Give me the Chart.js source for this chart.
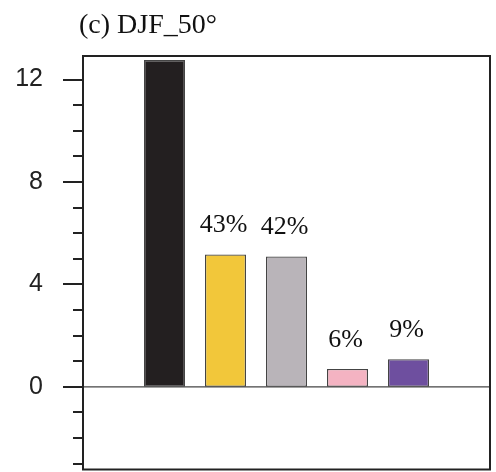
<!DOCTYPE html>
<html>
<head>
<meta charset="utf-8">
<script src="https://cdn.jsdelivr.net/npm/chart.js@4"></script>
<style>
  html, body { margin: 0; padding: 0; background: #fff; overflow: hidden; }
  canvas { display: block; }
</style>
</head>
<body>
<canvas id="c" width="496" height="472" style="width:496px;height:472px"></canvas>
<script>
// Panel title
const panelTitle = '(c) DJF_50°';

// Bar positions along x, values and labels above bars
const positions = [0, 1, 2, 3, 4];
const values = [12.76, 5.17, 5.09, 0.70, 1.08];
const percentLabels = ['', '43%', '42%', '6%', '9%'];
const barColors = ['#231f20', '#f2c73a', '#b9b4b9', '#f4b3c2', '#6e4f9f'];

// Y axis range and tick settings
const yMin = -3.23;
const yMax = 12.92;
const yMinorStep = 1;
const yMajorStep = 4;

const points = positions.map((p, i) => ({ x: p, y: values[i] }));

const framePlugin = {
  id: 'frame',
  beforeDatasetsDraw(chart) {
    const { ctx, chartArea: a, scales: { y } } = chart;
    // zero line
    const y0 = y.getPixelForValue(0);
    ctx.save();
    ctx.strokeStyle = '#444';
    ctx.lineWidth = 1.2;
    ctx.beginPath();
    ctx.moveTo(a.left, y0);
    ctx.lineTo(a.right, y0);
    ctx.stroke();
    ctx.restore();
  },
  afterDraw(chart) {
    const { ctx, chartArea: a, scales: { y } } = chart;
    ctx.save();
    // frame
    ctx.strokeStyle = '#222';
    ctx.lineWidth = 2;
    ctx.strokeRect(a.left, a.top, a.right - a.left, a.bottom - a.top);
    // tick marks: long for major, short for minor
    ctx.lineWidth = 2;
    y.ticks.forEach(t => {
      if (!Number.isInteger(t.value)) return;
      const py = Math.round(y.getPixelForValue(t.value));
      const len = t.value % yMajorStep === 0 ? 20 : 10;
      ctx.beginPath();
      ctx.moveTo(a.left - len, py);
      ctx.lineTo(a.left, py);
      ctx.stroke();
    });
    // percentage labels above bars
    const meta = chart.getDatasetMeta(0);
    ctx.fillStyle = '#111';
    ctx.font = '26px "Liberation Serif", "Times New Roman", serif';
    ctx.textAlign = 'center';
    ctx.textBaseline = 'alphabetic';
    meta.data.forEach((bar, i) => {
      if (!percentLabels[i]) return;
      ctx.fillText(percentLabels[i], bar.x - 2, bar.y - 22);
    });
    // panel title
    ctx.font = '28px "Liberation Serif", "Times New Roman", serif';
    ctx.textAlign = 'left';
    ctx.fillText(panelTitle, 79, 33);
    ctx.restore();
  }
};

new Chart(document.getElementById('c'), {
  type: 'bar',
  data: {
    datasets: [{
      data: points,
      backgroundColor: barColors,
      borderColor: '#444',
      borderWidth: 1.3,
      borderSkipped: false,
      barPercentage: 0.672,
      categoryPercentage: 1
    }]
  },
  options: {
    responsive: false,
    animation: false,
    events: [],
    layout: { padding: { top: 56, right: 6, bottom: 2.5, left: 0 } },
    plugins: { legend: { display: false }, tooltip: { enabled: false } },
    scales: {
      x: {
        type: 'linear',
        display: false,
        offset: false,
        min: -1.336,
        max: 5.336
      },
      y: {
        min: yMin,
        max: yMax,
        grid: { display: false, drawTicks: false },
        border: { display: false },
        afterFit(scale) {
          scale.width = 83;
          scale.paddingTop = 0;
          scale.paddingBottom = 0;
        },
        ticks: {
          stepSize: yMinorStep,
          includeBounds: false,
          autoSkip: false,
          padding: 40,
          color: '#222',
          font: { family: '"Liberation Sans", Arial, sans-serif', size: 25 },
          callback(v) {
            return (Number.isInteger(v) && v % yMajorStep === 0) ? String(v) : '';
          }
        }
      }
    }
  },
  plugins: [framePlugin]
});
</script>
</body>
</html>
